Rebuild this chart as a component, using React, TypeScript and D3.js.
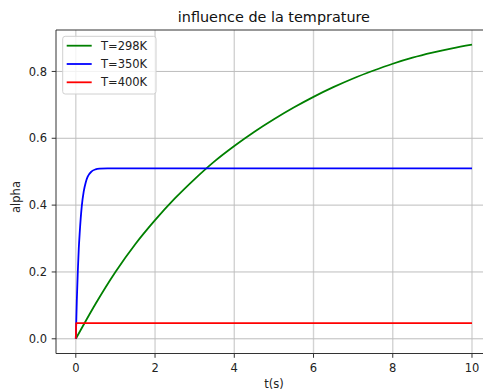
import React from "react";
import * as d3 from "d3";

// Conversion alpha(t) for three temperatures
const t298 = [0, 0.5, 1, 1.5, 2, 2.5, 3, 3.5, 4, 4.5, 5, 5.5, 6, 6.5, 7, 7.5, 8, 8.5, 9, 9.5, 10];
const alpha298 = [0, 0.105, 0.2, 0.283, 0.355, 0.42, 0.478, 0.531, 0.577, 0.619, 0.657, 0.692, 0.724, 0.753, 0.779, 0.802, 0.823, 0.841, 0.856, 0.869, 0.88];

const t350 = [0, 0.025, 0.05, 0.075, 0.1, 0.15, 0.2, 0.25, 0.3, 0.4, 0.5, 0.6, 0.8, 1.0, 10];
const alpha350 = [0, 0.113, 0.2, 0.27, 0.32, 0.396, 0.441, 0.468, 0.485, 0.501, 0.507, 0.509, 0.51, 0.51, 0.51];

const t400 = [0, 0.01, 10];
const alpha400 = [0, 0.047, 0.047];

const seriesNames = ["T=298K", "T=350K", "T=400K"];
const seriesColors = ["#008000", "#0000ff", "#ff0000"];

const xTicks = [0, 2, 4, 6, 8, 10];
const yTicks = [0.0, 0.2, 0.4, 0.6, 0.8];

const W = 483;
const H = 391;
const left = 56;
const top = 30;
const right = 491.8;
const bottom = 353.5;
const font = "DejaVu Sans, sans-serif";

export default function App() {
  const x = d3.scaleLinear().domain([-0.5, 10.5]).range([left, right]);
  const y = d3.scaleLinear().domain([-0.044, 0.924]).range([bottom, top]);

  const series = [
    { t: t298, a: alpha298 },
    { t: t350, a: alpha350 },
    { t: t400, a: alpha400 },
  ];

  const line = d3
    .line<[number, number]>()
    .x((d) => x(d[0]))
    .y((d) => y(d[1]))
    .curve(d3.curveMonotoneX);
  const straight = d3
    .line<[number, number]>()
    .x((d) => x(d[0]))
    .y((d) => y(d[1]));

  return (
    <svg
      width={W}
      height={H}
      style={{ position: "absolute", left: 0, top: 0, background: "#fff" }}
      fontFamily={font}
    >
      <defs>
        <clipPath id="plot">
          <rect x={left} y={top} width={right - left} height={bottom - top} />
        </clipPath>
      </defs>
      <rect x={0} y={0} width={W} height={H} fill="#fff" />

      {/* grid */}
      {xTicks.map((v) => (
        <line key={"gx" + v} x1={x(v)} x2={x(v)} y1={top} y2={bottom} stroke="#d3d3d3" strokeWidth={1.4} />
      ))}
      {yTicks.map((v) => (
        <line key={"gy" + v} x1={left} x2={right} y1={y(v)} y2={y(v)} stroke="#bdbdbd" strokeWidth={1} />
      ))}

      {/* curves */}
      <g clipPath="url(#plot)">
        {series.map((s, i) => {
          const pts = s.t.map((t, j) => [t, s.a[j]] as [number, number]);
          const gen = i === 2 ? straight : line;
          return (
            <path key={i} d={gen(pts) || ""} fill="none" stroke={seriesColors[i]} strokeWidth={1.8} strokeLinejoin="round" />
          );
        })}
      </g>

      {/* spines */}
      <line x1={left} x2={left} y1={top} y2={bottom} stroke="#333" strokeWidth={1} />
      <line x1={left} x2={right} y1={bottom} y2={bottom} stroke="#333" strokeWidth={1} />
      <line x1={left} x2={right} y1={top} y2={top} stroke="#333" strokeWidth={1} />
      <line x1={right} x2={right} y1={top} y2={bottom} stroke="#333" strokeWidth={1} />

      {/* x ticks */}
      {xTicks.map((v) => (
        <g key={"xt" + v}>
          <line x1={x(v)} x2={x(v)} y1={bottom} y2={bottom + 4.3} stroke="#333" strokeWidth={1} />
          <text x={x(v)} y={371.5} textAnchor="middle" fontSize={11.5} fill="#222">
            {v}
          </text>
        </g>
      ))}
      {/* y ticks */}
      {yTicks.map((v) => (
        <g key={"yt" + v}>
          <line x1={left - 4.3} x2={left} y1={y(v)} y2={y(v)} stroke="#333" strokeWidth={1} />
          <text x={47} y={y(v)} dy="0.36em" textAnchor="end" fontSize={11.5} fill="#222">
            {v.toFixed(1)}
          </text>
        </g>
      ))}

      <text x={(left + right) / 2} y={22} textAnchor="middle" fontSize={14.4} fill="#111">
        influence de la temprature
      </text>
      <text x={(left + right) / 2} y={388} textAnchor="middle" fontSize={11.5} fill="#222">
        t(s)
      </text>
      <text
        transform={`translate(20,197) rotate(-90)`}
        textAnchor="middle"
        fontSize={11.5}
        fill="#222"
      >
        alpha
      </text>

      {/* legend */}
      <rect x={62.7} y={36.3} width={93.3} height={57.7} rx={2.5} fill="#fff" fillOpacity={0.8} stroke="#d0d0d0" strokeWidth={1} />
      {seriesNames.map((n, i) => {
        const ly = 45.7 + i * 18.3;
        return (
          <g key={n}>
            <line x1={66.7} x2={91.7} y1={ly} y2={ly} stroke={seriesColors[i]} strokeWidth={1.8} />
            <text x={101} y={ly} dy="0.36em" fontSize={11.5} fill="#222">
              {n}
            </text>
          </g>
        );
      })}
    </svg>
  );
}
